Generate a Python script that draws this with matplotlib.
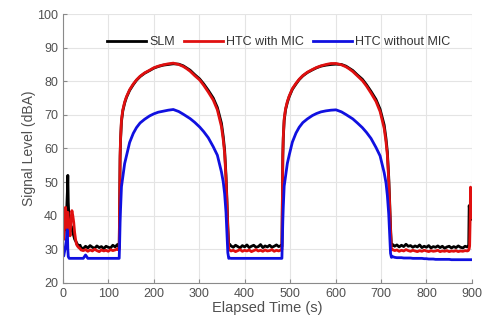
import numpy as np
import matplotlib.pyplot as plt

plt.rcParams['font.family'] = ['Liberation Sans', 'DejaVu Sans']

# --- start transient (0-40 s) ---
t_start = [0, 2, 4, 6, 8, 10, 11, 12, 14, 16, 18, 20, 22, 24, 26, 28, 30, 32, 35, 38, 40]
slm_start = [35, 33, 37, 36, 40, 47, 52, 44, 38, 36, 37, 36, 35, 34, 33, 32.5, 32, 31.5, 31, 31.2, 30.5]
mic_start = [35.5, 33, 40, 42.5, 38, 35, 41, 38, 36, 34, 39, 41.5, 40, 38, 35, 33, 31.5, 31, 30.5, 30.2, 29.8]
nomic_start = [28.3, 28.0, 29.5, 31.0, 33.0, 35.8, 30.0, 27.8, 27.3, 27.3, 27.3, 27.3, 27.3, 27.3,
               27.3, 27.3, 27.3, 27.3, 27.3, 27.3, 27.3]

# --- quiet 1 (45-122 s) ---
t_quiet1 = [45, 50, 55, 60, 65, 70, 75, 80, 85, 90, 95, 100, 105, 110, 115, 120, 122]
slm_quiet1 = [30.2, 30.9, 30.4, 31.1, 30.6, 30.3, 31.0, 30.5, 30.8, 30.2, 30.9, 30.6, 30.4, 31.2, 30.7, 31.4, 31.0]
mic_quiet1 = [29.6, 29.9, 29.4, 29.8, 29.5, 30.0, 29.6, 29.3, 29.8, 29.5, 29.7, 29.4, 29.9, 29.6, 29.8, 30.1, 29.9]
nomic_quiet1 = [27.3, 28.3, 27.3, 27.3, 27.3, 27.3, 27.3, 27.3, 27.3, 27.3, 27.3, 27.3, 27.3, 27.3, 27.3, 27.3, 27.3]

# --- tone 1 ---
t_tone1 = [124, 125, 126, 127, 129, 132, 136, 140, 147, 155, 162, 170, 180, 191, 200, 210, 221, 232,
           243, 255, 265, 272, 280, 290, 301, 310, 320, 331, 340, 349, 353, 356, 359, 361, 363, 365]
slm_tone1 = [30.5, 44, 57, 62.5, 68, 71.2, 73.5, 75.2, 77.3, 79.0, 80.3, 81.4, 82.4, 83.2, 83.9, 84.4, 84.8, 85.0,
             85.2, 85.1, 84.6, 84.0, 83.3, 82.0, 80.7, 79.2, 77.3, 75.0, 72.2, 67.5, 63.5, 59.5, 52, 45, 37, 31.2]
mic_tone1 = [30, 45, 58, 63, 68.5, 71.5, 73.8, 75.4, 77.5, 79.2, 80.4, 81.5, 82.5, 83.3, 84.0, 84.5, 84.9, 85.2,
             85.4, 85.0, 84.4, 83.8, 83.0, 81.7, 80.4, 78.8, 76.8, 74.4, 71.5, 66.5, 62.5, 58.6, 51, 44, 36, 30]
nomic_tone1 = [27.3, 32, 38, 42, 48.6, 51.5, 55.5, 57.8, 61.8, 64.5, 66.2, 67.6, 68.7, 69.7, 70.3, 70.8, 71.1, 71.4,
               71.6, 71.0, 70.2, 69.6, 68.9, 67.8, 66.4, 65.0, 63.2, 60.5, 58.0, 53.0, 50.0, 46.5, 41, 35, 29, 27.3]

# --- quiet 2 (367-480 s) ---
t_quiet2 = [367, 370, 375, 380, 385, 390, 395, 400, 405, 410, 415, 420, 425, 430, 435, 440, 445, 450,
            455, 460, 465, 470, 475, 480]
slm_quiet2 = [31.5, 31.0, 30.6, 31.2, 30.8, 30.4, 31.1, 30.7, 31.3, 30.5, 30.9, 31.2, 30.6, 30.8, 31.4, 30.5,
              31.0, 30.7, 31.2, 30.6, 30.9, 31.3, 30.8, 31.1]
mic_quiet2 = [29.8, 29.5, 29.7, 29.3, 29.6, 29.9, 29.4, 29.7, 29.5, 29.8, 29.3, 29.6, 29.9, 29.5, 29.7, 29.4,
              29.8, 29.5, 29.6, 29.9, 29.4, 29.7, 29.5, 29.8]
nomic_quiet2 = [27.4, 27.3, 27.3, 27.3, 27.3, 27.3, 27.3, 27.3, 27.3, 27.3, 27.3, 27.3, 27.3, 27.3, 27.3, 27.3,
                27.3, 27.3, 27.3, 27.3, 27.3, 27.3, 27.3, 27.3]

# --- tone 2 ---
t_tone2 = [482, 483, 484, 485, 487, 490, 494, 498, 505, 513, 520, 528, 538, 549, 558, 568, 579, 590,
           601, 613, 623, 630, 638, 648, 659, 668, 678, 689, 698, 707, 711, 714, 717, 719, 721, 723]
slm_tone2 = [30.8, 45, 57.5, 63, 68.3, 71.5, 73.7, 75.4, 77.6, 79.2, 80.5, 81.6, 82.6, 83.4, 84.0, 84.5, 84.8, 85.0,
             85.1, 85.0, 84.5, 83.9, 83.2, 81.9, 80.6, 79.0, 77.0, 74.6, 71.7, 67.0, 63.0, 59.0, 51.5, 44.5, 36.5, 31.0]
mic_tone2 = [30, 46, 58.5, 63.5, 68.8, 71.8, 74.0, 75.6, 77.8, 79.4, 80.6, 81.7, 82.7, 83.5, 84.1, 84.6, 85.0, 85.3,
             85.3, 84.9, 84.3, 83.7, 82.9, 81.6, 80.2, 78.6, 76.5, 74.0, 71.0, 66.0, 62.0, 58.0, 50.5, 43.5, 35.5, 29.8]
nomic_tone2 = [27.3, 33, 38.5, 42.5, 48.8, 51.8, 55.6, 58.0, 61.9, 64.6, 66.3, 67.7, 68.8, 69.8, 70.4, 70.9, 71.2, 71.4,
               71.5, 70.9, 70.1, 69.5, 68.8, 67.6, 66.2, 64.8, 63.0, 60.3, 57.8, 52.8, 49.8, 46.0, 40.5, 34.5, 28.8, 27.6]

# --- quiet 3 (726-890 s) ---
t_quiet3 = [726, 730, 735, 740, 745, 750, 755, 760, 765, 770, 775, 780, 785, 790, 795, 800, 805,
            810, 815, 820, 825, 830, 835, 840, 845, 850, 855, 860, 865, 870, 875, 880, 885, 890]
slm_quiet3 = [31.4, 30.9, 31.3, 30.7, 31.2, 30.8, 31.5, 30.9, 31.1, 30.6, 31.0, 30.7, 31.3, 30.5, 30.9,
              30.6, 31.1, 30.4, 30.8, 30.6, 31.0, 30.5, 30.9, 30.3, 30.7, 30.9, 30.4, 30.8, 30.5, 31.0,
              30.6, 30.4, 30.9, 30.7]
mic_quiet3 = [29.9, 29.6, 29.8, 29.4, 29.7, 29.5, 29.9, 29.6, 29.4, 29.7, 29.5, 29.3, 29.6, 29.4, 29.7,
              29.5, 29.3, 29.6, 29.4, 29.5, 29.7, 29.3, 29.5, 29.4, 29.6, 29.3, 29.5, 29.4, 29.6, 29.3,
              29.5, 29.4, 29.6, 29.5]
nomic_quiet3 = [27.8, 27.6, 27.5, 27.5, 27.5, 27.4, 27.4, 27.4, 27.4, 27.3, 27.3, 27.3, 27.3, 27.3, 27.2,
                27.2, 27.1, 27.1, 27.1, 27.0, 27.0, 27.0, 27.0, 27.0, 27.0, 27.0, 26.9, 26.9, 26.9, 26.9,
                26.9, 26.9, 26.9, 26.9]

# --- end transient ---
t_end = [892, 893, 894, 895, 896, 897, 898, 899, 900]
slm_end = [30.8, 31.5, 43.0, 41.5, 40.5, 40.0, 39.5, 39.2, 39.0]
mic_end = [29.6, 29.8, 30.2, 31.0, 38.0, 48.5, 45.0, 41.0, 39.5]
nomic_end = [26.9, 26.9, 26.9, 26.9, 26.9, 26.9, 26.9, 26.9, 26.9]

elapsed = np.concatenate([t_start, t_quiet1, t_tone1, t_quiet2, t_tone2, t_quiet3, t_end])
slm = np.concatenate([slm_start, slm_quiet1, slm_tone1, slm_quiet2, slm_tone2, slm_quiet3, slm_end])
htc_mic = np.concatenate([mic_start, mic_quiet1, mic_tone1, mic_quiet2, mic_tone2, mic_quiet3, mic_end])
htc_nomic = np.concatenate([nomic_start, nomic_quiet1, nomic_tone1, nomic_quiet2, nomic_tone2, nomic_quiet3, nomic_end])

fig = plt.figure(figsize=(4.87, 3.2), dpi=100)
ax = fig.add_axes([0.129, 0.116, 0.84, 0.84])

ax.plot(elapsed, slm, color='black', lw=2.0, label='SLM')
ax.plot(elapsed, htc_mic, color='#e01010', lw=2.0, label='HTC with MIC')
ax.plot(elapsed, htc_nomic, color='#1010e0', lw=2.0, label='HTC without MIC')

ax.set_xlim(0, 900)
ax.set_ylim(20, 100)
ax.set_xticks(np.arange(0, 901, 100))
ax.set_yticks(np.arange(20, 101, 10))
ax.grid(True, color='#e4e4e4', lw=0.8)
ax.set_axisbelow(True)
for s in ['top', 'right']:
    ax.spines[s].set_visible(False)
for s in ['left', 'bottom']:
    ax.spines[s].set_color('#8a8a8a')
    ax.spines[s].set_linewidth(0.8)
ax.tick_params(direction='in', length=3, color='#8a8a8a', labelsize=9, labelcolor='#505050')

ax.set_xlabel('Elapsed Time (s)', fontsize=10.5, color='#505050', labelpad=1)
ax.set_ylabel('Signal Level (dBA)', fontsize=10, color='#505050', labelpad=1)

ax.legend(loc='center', bbox_to_anchor=(0.528, 0.896), ncol=3, frameon=False,
          fontsize=9, handlelength=3.1, handletextpad=0.3, columnspacing=0.7,
          labelcolor='#333333')

fig.savefig('out.png', dpi=100)
